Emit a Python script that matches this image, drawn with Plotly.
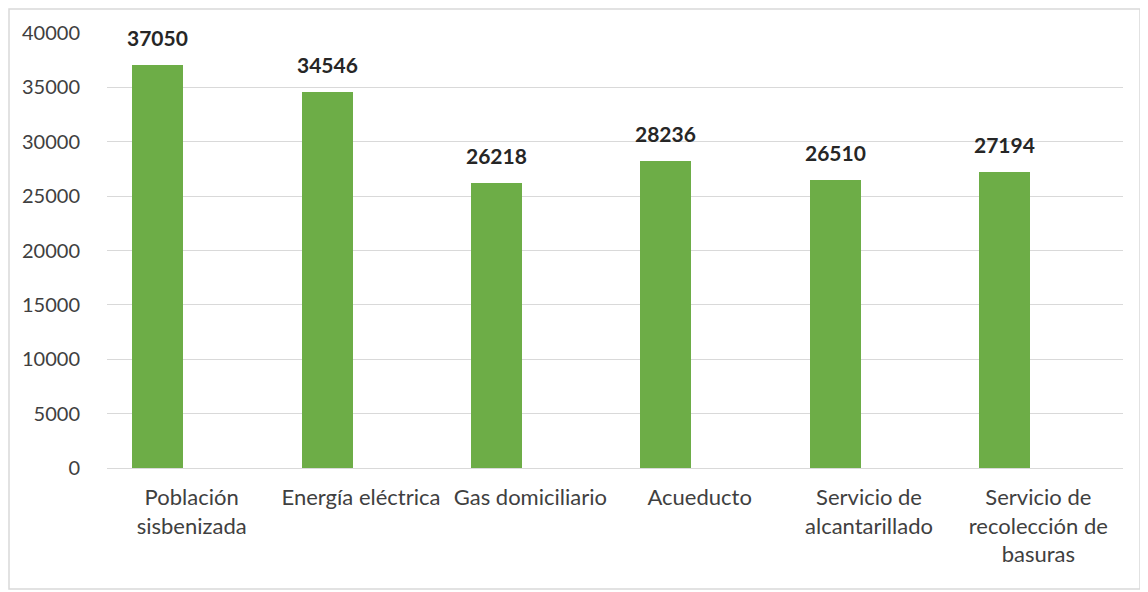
import plotly.graph_objects as go

categories = ["Población<br>sisbenizada", "Energía eléctrica", "Gas domiciliario",
              "Acueducto", "Servicio de<br>alcantarillado", "Servicio de<br>recolección de<br>basuras"]
values = [37050, 34546, 26218, 28236, 26510, 27194]
y_ticks = [0, 5000, 10000, 15000, 20000, 25000, 30000, 35000, 40000]

FONT = "Lato"

fig = go.Figure()
fig.add_trace(go.Bar(
    x=categories, y=values,
    width=0.30, offset=-0.35,
    marker=dict(color="#6DAD47", line=dict(width=0)),
    hoverinfo="x+y",
))

for c, v in zip(categories, values):
    fig.add_annotation(x=c, y=v, xref="x", yref="y", text=f"<b>{v}</b>",
                       showarrow=False, yanchor="bottom", xshift=-34, yshift=13,
                       font=dict(family=FONT, size=21, color="#262626"))

W, H = 1140, 584
L, R, T, B = 99, 25, 25, 124
fig.update_layout(
    width=W, height=H,
    margin=dict(l=L, r=R, t=T, b=B),
    paper_bgcolor="white", plot_bgcolor="white",
    showlegend=False,
    font=dict(family=FONT, size=20, color="#404040"),
    bargap=0,
)
fig.update_xaxes(showgrid=False, showline=False, zeroline=False,
                 tickangle=0, ticklabelstandoff=14,
                 tickfont=dict(family=FONT, size=22, color="#404040"))
fig.update_yaxes(range=[0, 40000], tickvals=y_ticks, ticktext=[str(t) for t in y_ticks],
                 showgrid=True, gridcolor="#D9D9D9", gridwidth=1,
                 zeroline=True, zerolinecolor="#D9D9D9", zerolinewidth=1,
                 showline=False, ticklabelstandoff=26,
                 tickfont=dict(family=FONT, size=20, color="#404040"))

pw, ph = W - L - R, H - T - B
fig.add_shape(type="rect", xref="paper", yref="paper",
              x0=-(L - 1) / pw, x1=1.0 + (R - 8) / pw,
              y0=-(B - 3) / ph, y1=1.0 + (T - 1) / ph,
              line=dict(color="#D9D9D9", width=1.5), fillcolor="rgba(0,0,0,0)", layer="below")

fig.write_html("out.html")
